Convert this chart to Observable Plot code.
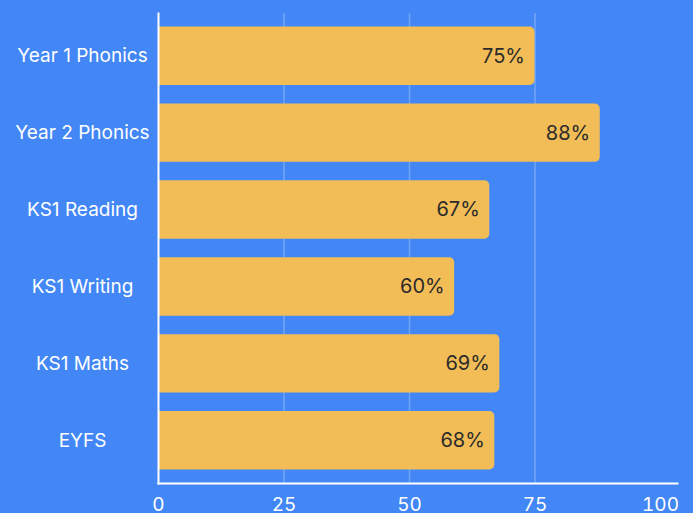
<!DOCTYPE html>
<html><head><meta charset="utf-8">
<script src="https://cdn.jsdelivr.net/npm/d3@7"></script>
<script src="https://cdn.jsdelivr.net/npm/@observablehq/plot@0.6"></script>
<style>html,body{margin:0;padding:0;background:#4287f5;overflow:hidden}</style>
</head><body><div id="chart"></div>
<script>
const categories = ["Year 1 Phonics","Year 2 Phonics","KS1 Reading","KS1 Writing","KS1 Maths","EYFS"];
const values = [75, 88, 66, 59, 68, 67];
const valueLabels = ["75%","88%","67%","60%","69%","68%"];
const xTicks = [0,25,50,75,100];
const gridTicks = [25,50,75];
const data = categories.map((c,i)=>({category:c, value:values[i], label:valueLabels[i]}));
const chart = Plot.plot({
  width: 693, height: 530,
  marginLeft:158, marginRight:16, marginTop:13, marginBottom:47,
  style:{background:"#4287f5", fontFamily:"Inter, sans-serif", color:"white", overflow:"hidden"},
  x:{domain:[0,100], range:[158,660], label:null},
  y:{domain:categories, paddingInner:0.24, paddingOuter:0.176, round:false, label:null},
  marks:[
    Plot.gridX(gridTicks,{stroke:"white", strokeOpacity:0.25, strokeWidth:1.5}),
    Plot.barX(data,{x:"value", y:"category", fill:"#f2bd57", rx2:5}),
    Plot.text(data,{x:"value", y:"category", text:"label", textAnchor:"end", dx:-10, fill:"#2b2b2b", fontSize:20}),
    Plot.axisX(xTicks,{tickSize:0, tickPadding:14, fontSize:19, fill:"white", label:null, tickFormat:d=>String(d)}),
    Plot.axisY({tickSize:0, tickPadding:76, textAnchor:"middle", fontSize:19, fill:"white", label:null}),
    Plot.frame({anchor:"left", stroke:"white", strokeWidth:2}),
    Plot.frame({anchor:"bottom", stroke:"white", strokeWidth:2})
  ]
});
document.getElementById("chart").appendChild(chart);
</script></body></html>
